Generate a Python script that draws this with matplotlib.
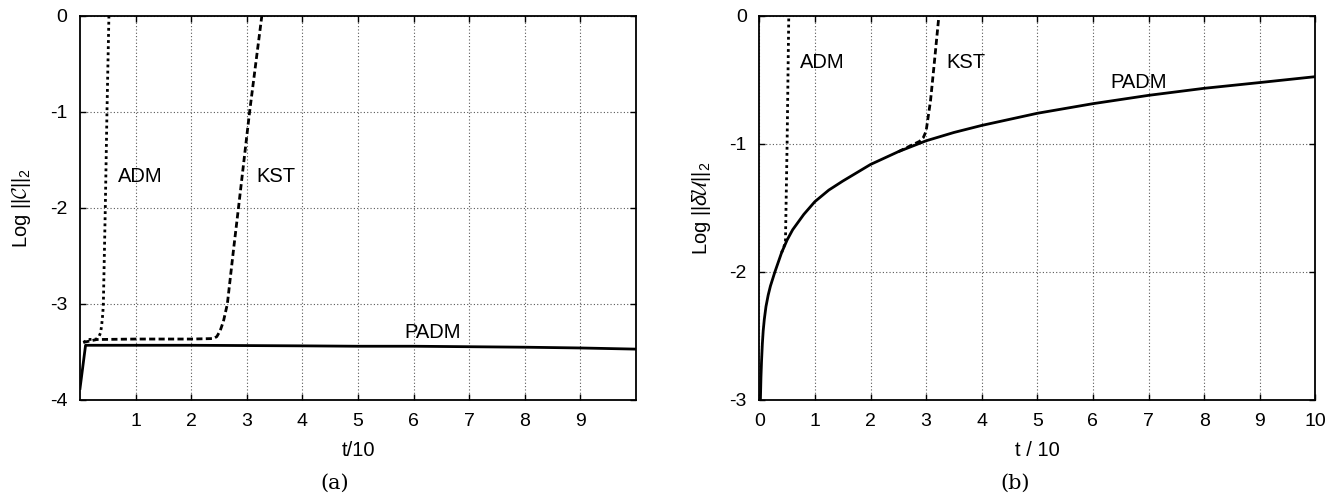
import matplotlib
matplotlib.use("Agg")
import matplotlib.pyplot as plt

plt.rcParams['font.family'] = ['Liberation Sans', 'DejaVu Sans']
plt.rcParams['axes.unicode_minus'] = False
plt.rcParams['mathtext.fontset'] = 'custom'
plt.rcParams['mathtext.rm'] = 'Liberation Sans'
plt.rcParams['mathtext.it'] = 'Liberation Sans:italic'
plt.rcParams['mathtext.cal'] = 'cmsy10'

# ---- panel (a): constraint norm ----
a_padm_t = [0.0, 0.1, 1, 2, 3, 4, 5, 6, 7, 8, 9, 10]
a_padm_y = [-3.88, -3.43, -3.43, -3.43, -3.433, -3.436, -3.44, -3.44, -3.445, -3.45, -3.458, -3.47]

a_adm_t = [0.06, 0.15, 0.3, 0.34, 0.37, 0.39, 0.41, 0.42, 0.455, 0.485, 0.52]
a_adm_y = [-3.40, -3.37, -3.365, -3.34, -3.30, -3.22, -3.10, -3.0, -2.0, -1.0, 0.0]

a_kst_t = [0.06, 0.3, 1, 2, 2.40, 2.46, 2.52, 2.58, 2.65, 2.76, 2.85, 3.05, 3.27]
a_kst_y = [-3.40, -3.37, -3.365, -3.365, -3.36, -3.34, -3.28, -3.18, -3.0, -2.44, -2.0, -1.0, 0.0]

# ---- panel (b): solution error ----
b_padm_t = [0.02, 0.03, 0.04, 0.055, 0.07, 0.09, 0.12, 0.16, 0.2, 0.28, 0.4, 0.5, 0.6, 0.8,
            1.0, 1.25, 1.5, 2.0, 2.5, 3.0, 3.5, 4.0, 5.0, 6.0, 7.0, 8.0, 9.0, 10.0]
b_padm_y = [-3.0, -2.82, -2.7, -2.56, -2.46, -2.37, -2.27, -2.18, -2.11, -2.0, -1.85, -1.75,
            -1.67, -1.55, -1.45, -1.36, -1.29, -1.16, -1.06, -0.975, -0.91, -0.855, -0.76,
            -0.685, -0.62, -0.565, -0.52, -0.474]

b_adm_t = [0.4, 0.47, 0.50, 0.53]
b_adm_y = [-1.85, -1.77, -1.0, 0.0]

b_kst_t = [2.5, 2.88, 2.95, 3.0, 3.08, 3.14, 3.23]
b_kst_y = [-1.06, -0.98, -0.95, -0.90, -0.66, -0.40, 0.0]

fig = plt.figure(figsize=(13.38, 4.93), dpi=100)
axA = fig.add_axes([80/1338, 1-400/493, 556/1338, 384/493])
axB = fig.add_axes([759.3/1338, 1-400/493, 556/1338, 384/493])

grid_kw = dict(color='0.35', linestyle=(0, (1, 2)), linewidth=0.8)
dot_style = (0, (1, 1.2))
dash_style = (0, (2.2, 1.2))

def style(ax, yticks, xticks):
    ax.set_xlim(0, 10)
    ax.set_xticks(xticks)
    ax.set_yticks(yticks)
    ax.tick_params(direction='in', length=4.5, width=1.0, top=True, right=True,
                   labelsize=14, pad=9)
    for s in ax.spines.values():
        s.set_linewidth(1.3)
    ax.grid(True, **grid_kw)
    ax.set_axisbelow(True)

# panel a
axA.plot(a_padm_t, a_padm_y, color='black', lw=2.0)
axA.plot(a_adm_t, a_adm_y, color='black', lw=2.0, linestyle=dot_style)
axA.plot(a_kst_t, a_kst_y, color='black', lw=2.0, linestyle=dash_style)
axA.set_ylim(-4, 0)
style(axA, [0, -1, -2, -3, -4], [1, 2, 3, 4, 5, 6, 7, 8, 9])
axA.text(1.08, -1.67, 'ADM', fontsize=14.5, ha='center', va='center')
axA.text(3.53, -1.67, 'KST', fontsize=14.5, ha='center', va='center')
axA.text(6.35, -3.3, 'PADM', fontsize=14.5, ha='center', va='center')
axA.set_xlabel('t/10', fontsize=14.5, labelpad=8)
axA.set_ylabel(r'Log $||\mathcal{C}||_2$', fontsize=14.5, labelpad=12)

# panel b
axB.plot(b_adm_t, b_adm_y, color='black', lw=2.0, linestyle=dot_style)
axB.plot(b_kst_t, b_kst_y, color='black', lw=2.0, linestyle=dash_style)
axB.plot(b_padm_t, b_padm_y, color='black', lw=2.0)
axB.set_ylim(-3, 0)
style(axB, [0, -1, -2, -3], [0, 1, 2, 3, 4, 5, 6, 7, 8, 9, 10])
axB.text(1.14, -0.36, 'ADM', fontsize=14.5, ha='center', va='center')
axB.text(3.72, -0.36, 'KST', fontsize=14.5, ha='center', va='center')
axB.text(6.82, -0.52, 'PADM', fontsize=14.5, ha='center', va='center')
axB.set_xlabel('t / 10', fontsize=14.5, labelpad=8)
axB.set_ylabel(r'Log $||\delta\mathcal{U}||_2$', fontsize=14.5, labelpad=12)

fig.text(335/1338, 1-483/493, '(a)', fontsize=15, ha='center', va='center',
         family='DejaVu Serif')
fig.text(1015/1338, 1-483/493, '(b)', fontsize=15, ha='center', va='center',
         family='DejaVu Serif')

fig.savefig('out.png', dpi=100)
